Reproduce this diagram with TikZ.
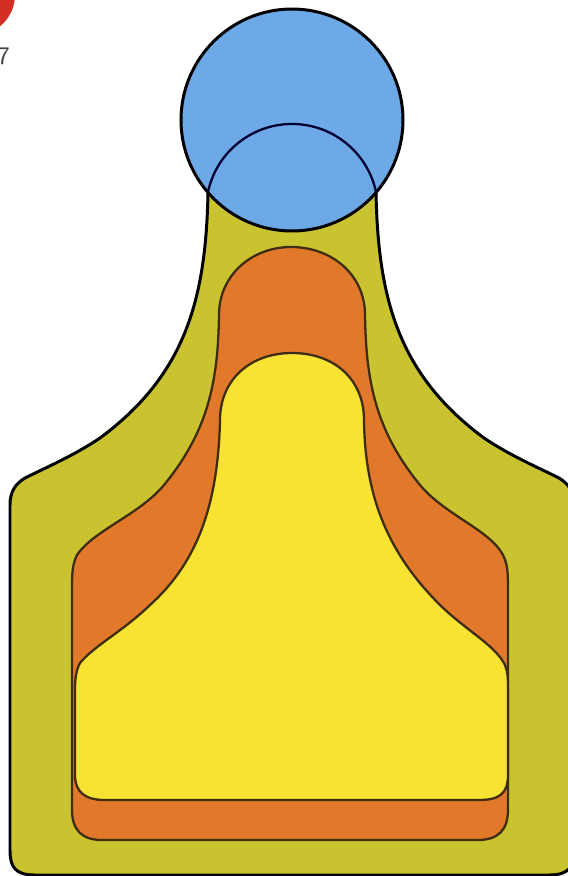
\documentclass[tikz,border=0pt]{standalone}
\usepackage{xcolor}
\usepackage{tikz}
\definecolor{oliva}{HTML}{C8C32F}
\definecolor{laranja}{HTML}{E2792A}
\definecolor{amarelo}{HTML}{F8E232}
\definecolor{azulclaro}{HTML}{6CA9E6}
\definecolor{vermelho}{HTML}{D42E24}
\definecolor{marrom}{HTML}{3E2C14}

\begin{document}
\begin{tikzpicture}[x=0.02cm, y=-0.02cm,
      borda/.style={draw=black, line width=1.7pt, line join=round},
      camada/.style={draw=marrom, line width=1.3pt, line join=round}]
    \useasboundingbox (0,0) rectangle (568,876);
    \clip (0,0) rectangle (568,876);
    \fill[vermelho] (-25,-5) circle[radius=0.8cm];
    \node[anchor=west, inner sep=0pt, font=\sffamily\Large, text=black!75] (num) at (-3,56) {7};
    \path[borda, fill=oliva] (208,192) arc[start angle=168, end angle=12, radius=1.718cm]
      .. controls (378,300) and (399,375) .. (484,438) .. controls (509,455) and (539,468) .. (559,478)
      .. controls (569,484) and (574,492) .. (574,505) -- (574,850) .. controls (574,867) and (569,875) .. (549,875)
      -- (35,875) .. controls (15,875) and (10,867) .. (10,850) -- (10,505)
      .. controls (10,492) and (15,484) .. (25,478) .. controls (45,468) and (75,455) .. (100,438)
      .. controls (185,375) and (206,300) .. cycle;
    \path[camada, fill=laranja] (291,247) .. controls (332,247) and (365,275) .. (365,315)
      .. controls (366,380) and (375,430) .. (420,485) .. controls (445,515) and (490,530) .. (503,555)
      .. controls (508,565) and (508,575) .. (508,590) -- (508,810) .. controls (508,830) and (498,840) .. (478,840)
      -- (102,840) .. controls (82,840) and (72,830) .. (72,810) -- (72,590)
      .. controls (72,575) and (72,565) .. (77,555) .. controls (94,530) and (139,515) .. (164,485)
      .. controls (209,430) and (218,380) .. (219,315) .. controls (219,275) and (252,247) .. cycle;
    \path[camada, fill=amarelo] (292,353) .. controls (335,353) and (364,380) .. (364,420)
      .. controls (365,500) and (390,555) .. (440,605) .. controls (468,632) and (495,645) .. (505,665)
      .. controls (508,672) and (508,680) .. (508,690) -- (508,775) .. controls (508,795) and (498,800) .. (478,800)
      -- (105,800) .. controls (85,800) and (75,792) .. (75,775) -- (75,690)
      .. controls (75,680) and (76,670) .. (80,663) .. controls (95,645) and (122,632) .. (150,605)
      .. controls (200,560) and (218,500) .. (220,420) .. controls (220,380) and (250,353) .. cycle;
    \path[borda, fill=azulclaro] (292,120) circle[radius=2.22cm];
    \draw[line width=1.3pt, draw=black!80!blue] (208,192) arc[start angle=168, end angle=12, radius=1.718cm];
  \end{tikzpicture}
\end{document}
